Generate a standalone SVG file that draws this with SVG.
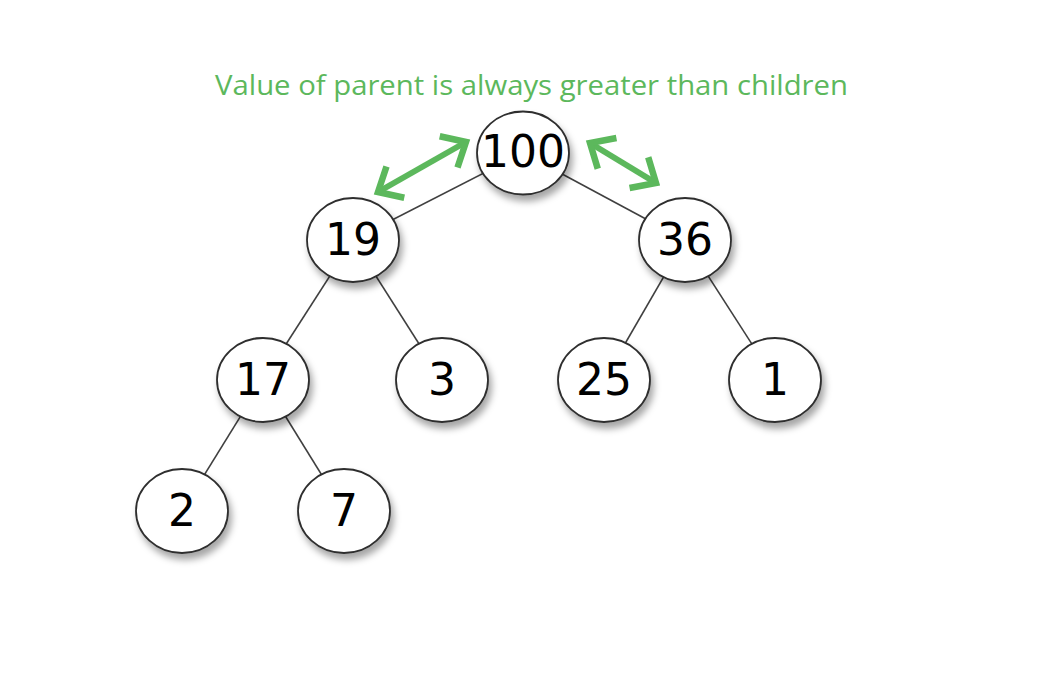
<svg xmlns="http://www.w3.org/2000/svg" width="1044" height="674" viewBox="0 0 1044 674">
<style>
.edge{stroke:#404040;stroke-width:1.6;fill:none}
.node ellipse{fill:#fff;stroke:#2e2e2e;stroke-width:1.8;filter:url(#sh)}
.node text{font-family:"DejaVu Sans",sans-serif;font-size:44px;fill:#000;text-anchor:middle}
.title{font-family:"Open Sans",sans-serif;font-size:28px;fill:#5cb85c}
.garrow{stroke:#5cb85c;stroke-width:6;fill:none;marker-start:url(#chev);marker-end:url(#chev)}
</style>
<defs>
<filter id="sh" x="-30%" y="-30%" width="170%" height="170%">
<feDropShadow dx="3" dy="6" stdDeviation="3.5" flood-color="#000" flood-opacity="0.35"/>
</filter>
<marker id="chev" markerUnits="userSpaceOnUse" markerWidth="40" markerHeight="40" viewBox="-30 -20 40 40" refX="0" refY="0" orient="auto-start-reverse" overflow="visible">
<path d="M-20,-18 L0,0 L-20,18" fill="none" stroke="#5cb85c" stroke-width="6.5" stroke-linejoin="miter"/>
</marker>
</defs>
<rect width="1044" height="674" fill="#fff"/>
<text class="title" x="215" y="95" textLength="633" lengthAdjust="spacingAndGlyphs">Value of parent is always greater than children</text>
<g id="connectors">
<line class="edge" x1="523" y1="153" x2="353" y2="240"/>
<line class="edge" x1="523" y1="153" x2="685" y2="240"/>
<line class="edge" x1="353" y1="240" x2="263" y2="380"/>
<line class="edge" x1="353" y1="240" x2="442" y2="380"/>
<line class="edge" x1="685" y1="240" x2="604" y2="380"/>
<line class="edge" x1="685" y1="240" x2="775" y2="380"/>
<line class="edge" x1="263" y1="380" x2="182" y2="511"/>
<line class="edge" x1="263" y1="380" x2="344" y2="511"/>
<line class="garrow" x1="378" y1="192" x2="466" y2="142"/>
<line class="garrow" x1="590" y1="143" x2="656" y2="183"/>
</g>
<g id="n100" class="node"><ellipse cx="523" cy="153" rx="46" ry="41.5"/><text x="523" y="167">100</text></g>
<g id="n19" class="node"><ellipse cx="353" cy="240" rx="46" ry="42"/><text x="353" y="255">19</text></g>
<g id="n36" class="node"><ellipse cx="685" cy="240" rx="46" ry="42"/><text x="685" y="255">36</text></g>
<g id="n17" class="node"><ellipse cx="263" cy="380" rx="46" ry="42"/><text x="263" y="395">17</text></g>
<g id="n3" class="node"><ellipse cx="442" cy="380" rx="46" ry="42"/><text x="442" y="395">3</text></g>
<g id="n25" class="node"><ellipse cx="604" cy="380" rx="46" ry="42"/><text x="604" y="395">25</text></g>
<g id="n1" class="node"><ellipse cx="775" cy="380" rx="46" ry="42"/><text x="775" y="395">1</text></g>
<g id="n2" class="node"><ellipse cx="182" cy="511" rx="46" ry="42"/><text x="182" y="526">2</text></g>
<g id="n7" class="node"><ellipse cx="344" cy="511" rx="46" ry="42"/><text x="344" y="526">7</text></g>
</svg>
